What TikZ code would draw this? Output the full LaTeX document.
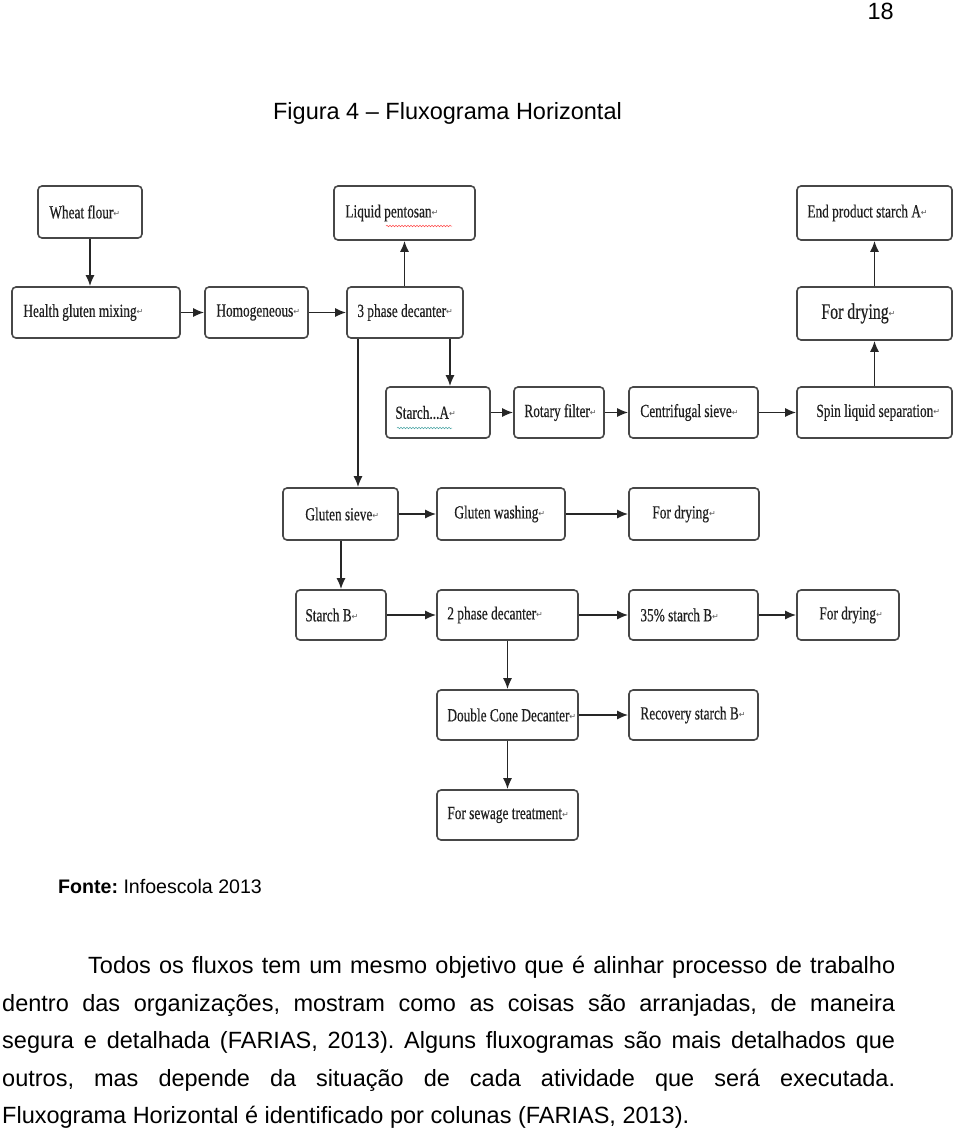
\documentclass[tikz,border=0pt]{standalone}
\usepackage{fontspec}
\setmainfont{Liberation Sans}
\newfontfamily\boxfont[FakeStretch=0.72,FakeBold=0.4]{Liberation Serif}
\newfontfamily\symfont{DejaVu Sans}
\usetikzlibrary{arrows.meta,decorations.pathmorphing}
\frenchspacing
\newcommand\rt{{\symfont\fontsize{8}{8}\selectfont\color{black!65}\raisebox{2pt}{↵}}}
\tikzset{
  fbx/.style={draw=black!72, line width=1.6pt, rounded corners=4pt, fill=white, inner sep=0pt},
  ftxt/.style={anchor=west, inner sep=0pt, font=\boxfont\fontsize{18.5}{20}\selectfont, text=black!88},
  arr/.style={draw=black!85, line width=1.7pt, -{Latex[length=11pt,width=9pt]}},
  body/.style={anchor=base west, inner sep=0pt, font=\fontsize{23.5}{28}\selectfont},
  wavy/.style={decorate, decoration={snake, segment length=3pt, amplitude=0.8pt}, line width=0.5pt}
}
% name, x1, y1, x2, y2, text padding, text
\newcommand\flowbox[7]{%
  \node[fbx, minimum width={(#4)-(#2)}, minimum height={(#5)-(#3)}] (#1) at ({((#2)+(#4))/2},{((#3)+(#5))/2}) {};
  \node[ftxt] (#1t) at ([xshift=#6pt]#1.west) {#7\rt};
}
\begin{document}
\begin{tikzpicture}[x=1pt,y=-1pt]
\useasboundingbox (0,0) rectangle (960,1141);
\fill[white] (0,0) rectangle (960,1141);

\node[anchor=base east, inner sep=0pt, font=\fontsize{23.5}{28}\selectfont] (pg) at (894,19) {18};
\node[anchor=base, inner sep=0pt, font=\fontsize{23.5}{28}\selectfont] (title) at (447.5,119) {Figura 4 – Fluxograma Horizontal};

% boxes
\flowbox{wheat}{38}{186}{142}{238}{12}{Wheat flour}
\flowbox{pento}{334}{186}{475}{240}{12}{Liquid pentosan}
\flowbox{endA}{797}{186}{952}{240}{11}{End product starch A}
\flowbox{mix}{12}{287}{180}{338}{12}{Health gluten mixing}
\flowbox{homo}{205}{287}{308}{338}{12}{Homogeneous}
\flowbox{three}{347}{287}{463}{338}{11}{3 phase decanter}
\node[fbx, minimum width=155, minimum height=53] (dryA) at (874.5,313.5) {};
\node[ftxt, font=\boxfont\fontsize{22}{24}\selectfont] (dryAt) at ([xshift=25pt]dryA.west) {For drying\rt};
\flowbox{starA}{386}{387}{490}{438}{10}{Starch...A}
\flowbox{rot}{514}{387}{604}{438}{11}{Rotary filter}
\flowbox{cen}{629}{387}{758}{438}{12}{Centrifugal sieve}
\flowbox{spin}{797}{387}{952}{438}{20}{Spin liquid separation}
\flowbox{gsieve}{283}{488}{398}{540}{23}{Gluten sieve}
\flowbox{gwash}{437}{488}{565}{540}{18}{Gluten washing}
\flowbox{dryG}{629}{488}{759}{540}{24}{For drying}
\flowbox{starB}{296}{590}{386}{640}{10}{Starch B}
\flowbox{two}{437}{590}{578}{640}{11}{2 phase decanter}
\flowbox{pct}{629}{590}{758}{640}{12}{35\% starch B}
\flowbox{dryB}{797}{590}{899}{640}{23}{For drying}
\flowbox{dcd}{437}{690}{578}{740}{11}{Double Cone Decanter}
\flowbox{rec}{629}{690}{758}{740}{12}{Recovery starch B}
\flowbox{sew}{437}{790}{578}{840}{11}{For sewage treatment}

% spell-check underlines
\draw[wavy, red!70] (386,226) -- (452,226);
\draw[wavy, teal!70] (397,428) -- (452,428);

% connectors
\draw[arr] (wheat.south) -- (wheat.south |- mix.north);
\draw[arr] (mix) -- (homo);
\draw[arr] (homo) -- (three);
\draw[arr] (three.north -| pento.south) -- (pento.south);
\draw[arr] (three.south -| 450,0) -- (starA.north -| 450,0);
\draw[arr] (three.south -| 358,0) -- (gsieve.north -| 358,0);
\draw[arr] (starA) -- (rot);
\draw[arr] (rot) -- (cen);
\draw[arr] (cen) -- (spin);
\draw[arr] (spin) -- (dryA);
\draw[arr] (dryA) -- (endA);
\draw[arr] (gsieve) -- (gwash);
\draw[arr] (gwash) -- (dryG);
\draw[arr] (gsieve.south -| starB.north) -- (starB.north);
\draw[arr] (starB) -- (two);
\draw[arr] (two) -- (pct);
\draw[arr] (pct) -- (dryB);
\draw[arr] (two) -- (dcd);
\draw[arr] (dcd) -- (rec);
\draw[arr] (dcd) -- (sew);

% source and body text
\node[anchor=base west, inner sep=0pt, font=\fontsize{19.6}{24}\selectfont] (src) at (58,893) {\textbf{Fonte:} Infoescola 2013};
\node[body] (l1) at (88,973) {\makebox[807pt][s]{Todos os fluxos tem um mesmo objetivo que é alinhar processo de trabalho}};
\node[body] (l2) at (2,1011) {\makebox[893pt][s]{dentro das organizações, mostram como as coisas são arranjadas, de maneira}};
\node[body] (l3) at (2,1048.5) {\makebox[893pt][s]{segura e detalhada (FARIAS, 2013). Alguns fluxogramas são mais detalhados que}};
\node[body] (l4) at (2,1086) {\makebox[893pt][s]{outros, mas depende da situação de cada atividade que será executada.}};
\node[body] (l5) at (2,1123.5) {Fluxograma Horizontal é identificado por colunas (FARIAS, 2013).};
\end{tikzpicture}
\end{document}
